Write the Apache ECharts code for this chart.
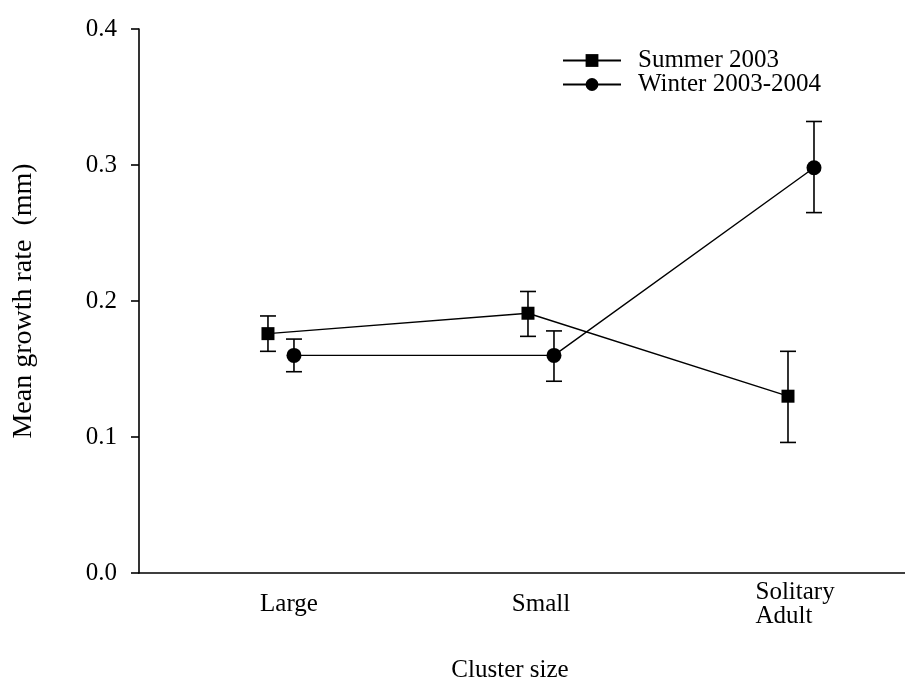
<!DOCTYPE html>
<html lang="en">

<head>
    <meta charset="UTF-8">
    <title>Mean growth rate</title>
    <style>
        * {
            padding: 0;
            margin: 0;
        }
    </style>
</head>

<body>
    <div id="main" style="width: 905px; height: 681px;"></div>
    <script src="https://cdn.jsdelivr.net/npm/echarts@6/dist/echarts.min.js"></script>
    <script>
        const categories = ['Large', 'Small', 'Solitary\nAdult']
        const seriesNames = ['Summer 2003', 'Winter 2003-2004']
        const yTicks = [0, 0.1, 0.2, 0.3, 0.4]

        // mean, low, high for each cluster size
        const summerMean = [0.176, 0.191, 0.130]
        const summerLow = [0.163, 0.174, 0.096]
        const summerHigh = [0.189, 0.207, 0.163]

        const winterMean = [0.160, 0.160, 0.298]
        const winterLow = [0.148, 0.141, 0.265]
        const winterHigh = [0.172, 0.178, 0.332]

        // small horizontal dodge so the two series don't overlap
        const dodge = 0.05

        const font = 'Liberation Serif'
        let mychart = echarts.init(document.getElementById('main'))

        function points(mean, shift) {
            return mean.map((v, i) => [i + shift, v])
        }

        function bars(low, high, shift) {
            return low.map((v, i) => [i + shift, v, high[i]])
        }

        function errorBar(params, api) {
            const lo = api.coord([api.value(0), api.value(1)])
            const hi = api.coord([api.value(0), api.value(2)])
            const w = 8
            const style = { stroke: '#000', lineWidth: 1.6 }
            return {
                type: 'group',
                children: [
                    { type: 'line', shape: { x1: lo[0], y1: lo[1], x2: hi[0], y2: hi[1] }, style },
                    { type: 'line', shape: { x1: lo[0] - w, y1: lo[1], x2: lo[0] + w, y2: lo[1] }, style },
                    { type: 'line', shape: { x1: hi[0] - w, y1: hi[1], x2: hi[0] + w, y2: hi[1] }, style }
                ]
            }
        }

        let options = {
            animation: false,
            textStyle: { fontFamily: font, color: '#000' },
            grid: {
                left: 139,
                right: 0,
                top: 29,
                bottom: 108,
                outerBoundsMode: 'none'
            },
            legend: {
                orient: 'vertical',
                left: 562,
                top: 48,
                padding: 0,
                itemWidth: 58,
                itemHeight: 16,
                itemGap: -1,
                data: seriesNames,
                textStyle: {
                    fontFamily: font,
                    fontSize: 25,
                    color: '#000',
                    lineHeight: 23,
                    padding: [0, 0, 0, 12]
                }
            },
            xAxis: {
                type: 'value',
                min: -0.546,
                max: 2.4,
                name: 'Cluster size',
                nameLocation: 'middle',
                nameGap: 85,
                nameTextStyle: {
                    fontFamily: font,
                    fontSize: 25,
                    color: '#000',
                    padding: [0, 24, 0, 0]
                },
                axisLine: { lineStyle: { color: '#000', width: 1.6 } },
                axisTick: { show: false },
                splitLine: { show: false },
                axisLabel: {
                    customValues: [0, 1, 2],
                    verticalAlign: 'middle',
                    margin: 31,
                    fontFamily: font,
                    fontSize: 25,
                    color: '#000',
                    lineHeight: 24,
                    formatter: function (v) {
                        const i = Math.round(v)
                        if (i === 0) return '{l|' + categories[0] + '}'
                        if (i === 2) return categories[2].split('\n').map(s => '{s|' + s + '}').join('\n')
                        return categories[i]
                    },
                    rich: {
                        l: { fontFamily: font, fontSize: 25, padding: [0, 0, 0, 16] },
                        s: { fontFamily: font, fontSize: 25, width: 82, align: 'left', lineHeight: 24, padding: [0, 9, 0, 0] }
                    }
                }
            },
            yAxis: {
                type: 'value',
                min: yTicks[0],
                max: yTicks[yTicks.length - 1],
                interval: 0.1,
                name: 'Mean growth rate  (mm)',
                nameLocation: 'middle',
                nameGap: 101,
                nameTextStyle: {
                    fontFamily: font,
                    fontSize: 28,
                    color: '#000'
                },
                axisLine: { show: true, onZero: false, lineStyle: { color: '#000', width: 1.6 } },
                axisTick: { show: true, length: 8, lineStyle: { color: '#000', width: 1.6 } },
                splitLine: { show: false },
                axisLabel: {
                    margin: 22,
                    fontFamily: font,
                    fontSize: 25,
                    color: '#000',
                    formatter: v => v.toFixed(1)
                }
            },
            series: [{
                name: seriesNames[0] + ' err',
                type: 'custom',
                renderItem: errorBar,
                data: bars(summerLow, summerHigh, -dodge),
                z: 1
            }, {
                name: seriesNames[1] + ' err',
                type: 'custom',
                renderItem: errorBar,
                data: bars(winterLow, winterHigh, dodge),
                z: 1
            }, {
                name: seriesNames[0],
                type: 'line',
                symbol: 'rect',
                symbolSize: 13,
                lineStyle: { color: '#000', width: 1.4 },
                itemStyle: { color: '#000' },
                data: points(summerMean, -dodge),
                z: 3
            }, {
                name: seriesNames[1],
                type: 'line',
                symbol: 'circle',
                symbolSize: 15,
                lineStyle: { color: '#000', width: 1.4 },
                itemStyle: { color: '#000' },
                data: points(winterMean, dodge),
                z: 3
            }]
        }

        mychart.setOption(options);
    </script>
</body>

</html>
